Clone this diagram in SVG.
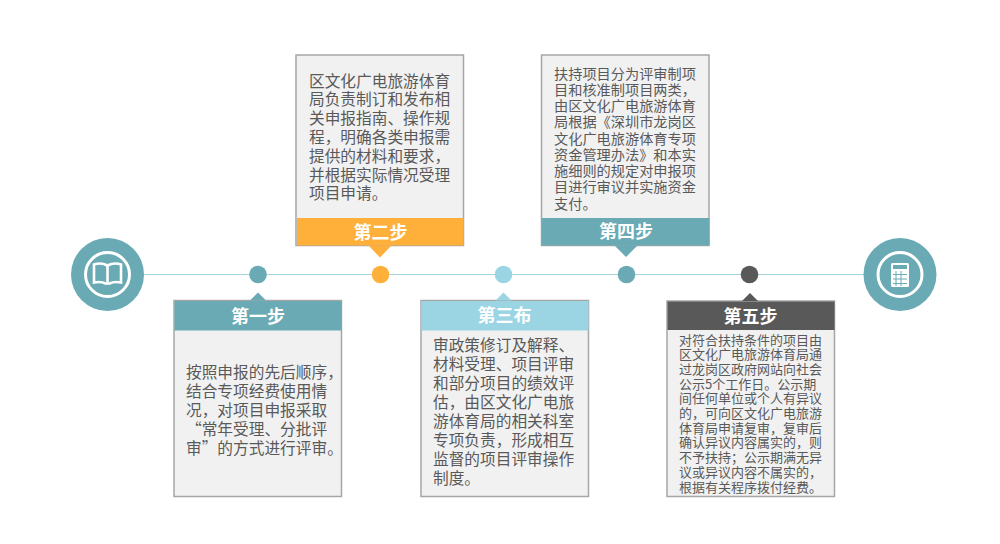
<svg xmlns="http://www.w3.org/2000/svg" width="1000" height="544" viewBox="0 0 1000 544">
<style>
text{font-family:"Noto Sans CJK SC","Noto Sans",sans-serif}
.box{fill:#f1f1f1;stroke:#a6a6a6;stroke-width:1.5}
.t{fill:#595959;font-size:15.7px}
.t4{fill:#595959;font-size:14.2px}
.t5{fill:#595959;font-size:13px}
.h{fill:#fff;font-size:18px;font-weight:700;text-anchor:middle}
.teal{fill:#69aab4}
.line{stroke:#a5d5dc;stroke-width:1.2;fill:none}
</style>
<g id="connectors"><path class="line" d="M143 274.500H864"/></g>
<g id="start">
<circle class="teal" cx="107.500" cy="274.500" r="36.500"/>
<circle cx="107.500" cy="274.500" r="22" fill="none" stroke="#fff" stroke-width="3"/>
<path d="M94 264.500q7-2.500 13.500 1q6.500-3.500 13.500-1v18q-7-1.500-11.500 1h-4q-4.500-2.500-11.500-1z" fill="none" stroke="#fff" stroke-width="2.600"/>
<path d="M107.500 265.500v17" stroke="#fff" stroke-width="2.600"/>
</g>
<g id="end">
<circle class="teal" cx="900" cy="274.500" r="36.500"/>
<circle cx="900" cy="274.500" r="22" fill="none" stroke="#fff" stroke-width="3"/>
<rect x="891" y="263" width="18" height="24" rx="1.500" fill="#fff"/>
<rect x="893" y="265" width="14" height="4" fill="#69aab4"/>
<path d="M896 271v15M901 271v15M893 274.500h14M893 279h14M893 283.500h14" stroke="#69aab4" stroke-width="1"/>
</g>
<g id="step1">
<circle class="teal" cx="258" cy="274.500" r="8.800"/>
<rect class="box" x="174" y="300.500" width="167.500" height="196"/>
<path class="teal" d="M250 300.500l8-8 8 8z"/>
<rect class="teal" x="174.500" y="301" width="167" height="29.500"/>
<text class="h" x="258" y="322.500">第一步</text>
<text class="t"><tspan x="186" y="378">按照申报的先后顺序，</tspan><tspan x="186" y="397">结合专项经费使用情</tspan><tspan x="186" y="416">况，对项目申报采取</tspan><tspan x="186" y="435">“常年受理、分批评</tspan><tspan x="186" y="454">审”的方式进行评审。</tspan></text>
</g>
<g id="step2">
<circle cx="380.500" cy="274.500" r="8.800" fill="#ffb03b"/>
<rect class="box" x="296" y="55" width="167.500" height="190.500"/>
<rect x="297" y="218" width="166.500" height="27.500" fill="#ffb03b"/>
<path d="M368.500 245.500h23l-11.500 12z" fill="#ffb03b"/>
<text class="h" x="380.500" y="238.500">第二步</text>
<text class="t"><tspan x="309" y="86.500">区文化广电旅游体育</tspan><tspan x="309" y="105.300">局负责制订和发布相</tspan><tspan x="309" y="124.100">关申报指南、操作规</tspan><tspan x="309" y="142.900">程，明确各类申报需</tspan><tspan x="309" y="161.700">提供的材料和要求，</tspan><tspan x="309" y="180.500">并根据实际情况受理</tspan><tspan x="309" y="199.300">项目申请。</tspan></text>
</g>
<g id="step3">
<circle cx="503.500" cy="274.500" r="8.800" fill="#9bd5e4"/>
<rect class="box" x="421" y="300.500" width="167.500" height="196"/>
<path d="M495.500 300.500l8-8 8 8z" fill="#9bd5e4"/>
<rect x="421.500" y="301" width="167" height="29.500" fill="#9bd5e4"/>
<text class="h" x="504.500" y="322">第三布</text>
<text class="t"><tspan x="433" y="351">审政策修订及解释、</tspan><tspan x="433" y="370">材料受理、项目评审</tspan><tspan x="433" y="389">和部分项目的绩效评</tspan><tspan x="433" y="408">估，由区文化广电旅</tspan><tspan x="433" y="427">游体育局的相关科室</tspan><tspan x="433" y="446">专项负责，形成相互</tspan><tspan x="433" y="465">监督的项目评审操作</tspan><tspan x="433" y="484">制度。</tspan></text>
</g>
<g id="step4">
<circle class="teal" cx="626.500" cy="274.500" r="8.800"/>
<rect class="box" x="541.500" y="55" width="167.500" height="190.500"/>
<rect class="teal" x="541.500" y="218" width="168" height="27.500"/>
<path class="teal" d="M614.500 245.500h23l-11.500 11.500z"/>
<text class="h" x="626" y="238">第四步</text>
<text class="t4"><tspan x="554" y="78.700">扶持项目分为评审制项</tspan><tspan x="554" y="94.950">目和核准制项目两类，</tspan><tspan x="554" y="111.200">由区文化广电旅游体育</tspan><tspan x="554" y="127.450">局根据《深圳市龙岗区</tspan><tspan x="554" y="143.700">文化广电旅游体育专项</tspan><tspan x="554" y="159.950">资金管理办法》和本实</tspan><tspan x="554" y="176.200">施细则的规定对申报项</tspan><tspan x="554" y="192.450">目进行审议并实施资金</tspan><tspan x="554" y="208.700">支付。</tspan></text>
</g>
<g id="step5">
<circle cx="749.500" cy="274.500" r="8.800" fill="#595959"/>
<rect class="box" x="667" y="301" width="167.500" height="195.500"/>
<path d="M742 301l8-8 8 8z" fill="#595959"/>
<rect x="667.500" y="301.500" width="167" height="28.500" fill="#595959"/>
<text class="h" x="750.500" y="323">第五步</text>
<text class="t5"><tspan x="679" y="344.500">对符合扶持条件的项目由</tspan><tspan x="679" y="359.200">区文化广电旅游体育局通</tspan><tspan x="679" y="373.900">过龙岗区政府网站向社会</tspan><tspan x="679" y="388.600">公示5个工作日。公示期</tspan><tspan x="679" y="403.300">间任何单位或个人有异议</tspan><tspan x="679" y="418">的，可向区文化广电旅游</tspan><tspan x="679" y="432.700">体育局申请复审，复审后</tspan><tspan x="679" y="447.400">确认异议内容属实的，则</tspan><tspan x="679" y="462.100">不予扶持；公示期满无异</tspan><tspan x="679" y="476.800">议或异议内容不属实的，</tspan><tspan x="679" y="491.500">根据有关程序拨付经费。</tspan></text>
</g>
</svg>
